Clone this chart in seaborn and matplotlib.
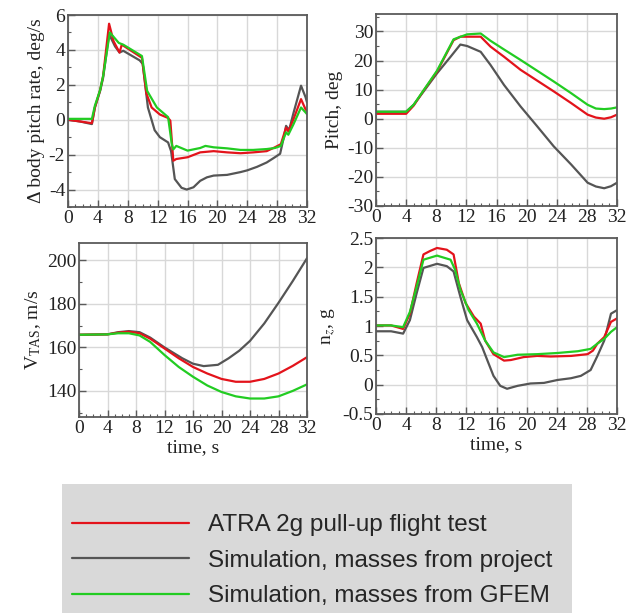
import numpy as np
import pandas as pd
import matplotlib
matplotlib.use('Agg')
import matplotlib.pyplot as plt
import seaborn as sns
from matplotlib.lines import Line2D
from matplotlib.ticker import MultipleLocator, FuncFormatter

# series labels and colours
series_names = ['ATRA 2g pull-up flight test',
                'Simulation, masses from project',
                'Simulation, masses from GFEM']
series_colors = ['#e3131b', '#555555', '#22cc22']

# pitch rate, deg/s
rate_t_red = [0, 1.6, 3.2, 3.6, 4.3, 4.7, 5.5, 6.1, 6.9, 7.2, 9.9, 10.5, 11.2, 12.3, 13.4, 13.7, 14.1,
              14.5, 16.0, 17.7, 19.5, 21.3, 23.1, 24.8, 26.6, 27.7, 28.5, 29.2, 29.5, 30.2, 31.2, 31.8, 32]
rate_red = [0, -0.1, -0.2, 0.7, 1.7, 2.5, 5.5, 4.5, 3.85, 4.3, 3.55, 1.5, 0.7, 0.3, 0.1, -0.05, -2.35,
            -2.25, -2.15, -1.87, -1.8, -1.87, -1.92, -1.87, -1.8, -1.58, -1.4, -0.45, -0.67, 0.04, 1.18, 0.6, 0.5]
rate_t_gray = [0, 1.6, 3.2, 3.6, 4.3, 4.7, 5.5, 6.3, 6.9, 7.4, 9.6, 10.0, 10.7, 11.6, 12.3, 13.4, 13.8, 14.3,
               15.2, 15.9, 16.8, 17.7, 18.6, 19.5, 21.3, 23.1, 24.0, 25.3, 26.6, 27.7, 28.4, 28.9, 29.2,
               29.6, 30.2, 31.2, 31.8, 32]
rate_gray = [0, -0.1, -0.25, 0.7, 1.65, 2.4, 4.9, 4.2, 3.85, 3.95, 3.4, 3.2, 0.7, -0.6, -1.0, -1.3, -1.8, -3.4,
             -3.9, -4.0, -3.87, -3.5, -3.3, -3.2, -3.16, -3.0, -2.9, -2.7, -2.45, -2.15, -1.95, -1.0, -0.35,
             -0.6, 0.4, 1.95, 1.3, 1.0]
rate_t_green = [0, 1.6, 3.2, 3.6, 4.3, 4.7, 5.6, 6.8, 7.4, 9.9, 10.6, 11.9, 13.4, 13.9, 14.1, 14.5, 16.0,
                17.7, 18.4, 19.5, 21.3, 23.1, 24.8, 26.6, 27.7, 28.5, 29.2, 29.5, 30.2, 31.2, 31.8, 32]
rate_green = [0.05, 0.05, 0.05, 0.8, 1.7, 2.5, 5.0, 4.4, 4.3, 3.65, 1.65, 0.7, 0.15, -1.4, -1.7, -1.5, -1.77,
              -1.62, -1.5, -1.58, -1.64, -1.73, -1.73, -1.68, -1.62, -1.5, -0.72, -0.86, -0.25, 0.7, 0.42, 0.32]

# pitch, deg
pitch_t_red = [0, 4, 5, 6.3, 8.1, 10.3, 11.2, 13.9, 15.2, 17, 19.2, 21.4, 23.6, 25.9, 28.1, 29.2, 30.3, 31.2, 32]
pitch_red = [1.7, 1.7, 4.5, 9.6, 16.2, 27, 28.2, 28.2, 24.8, 21.3, 16.8, 13.1, 9.4, 5.4, 1.4, 0.4, 0, 0.5, 1.4]
pitch_t_gray = [0, 4, 5, 6.3, 8.1, 9.9, 11.2, 12.1, 13.9, 15.2, 17, 19.2, 21.4, 23.6, 25.9, 28.1, 29.2,
                30.3, 31.2, 32]
pitch_gray = [2.4, 2.4, 4.8, 9.3, 15.6, 21.3, 25.5, 25, 23, 18.5, 11.6, 4.2, -2.6, -9.5, -15.7, -22, -23.3,
              -23.9, -23.2, -22]
pitch_t_green = [0, 4, 5, 6.3, 8.1, 10.3, 12.1, 13.9, 15.2, 17, 19.2, 21.4, 23.6, 25.9, 28.1, 29.2, 30.3,
                 31.2, 32]
pitch_green = [2.4, 2.4, 4.8, 9.7, 16.5, 27.3, 29, 29.3, 26.8, 23.8, 20.2, 16.5, 12.8, 8.8, 4.8, 3.5, 3.3,
               3.5, 3.9]

# true airspeed, m/s
vtas_t_red = [0, 4, 5.5, 7, 8.5, 10, 12, 14, 16, 18, 20, 22, 24, 26, 28, 30, 32]
vtas_red = [165.8, 166, 166.8, 167.2, 166.5, 164, 159.5, 155, 151, 148, 145.5, 144.2, 144.2, 145.5, 148,
            151.5, 155.5]
vtas_t_gray = [0, 4, 5.5, 7, 8.5, 10, 12, 14.5, 16, 17.5, 19.5, 21, 22.5, 24, 26, 28, 30, 32]
vtas_gray = [165.8, 166, 167, 167.5, 167, 164.5, 160, 155, 152.5, 151.4, 152, 155, 158.5, 163, 171, 180.5,
             190.5, 201]
vtas_t_green = [0, 4, 5.5, 7, 8.5, 10, 12, 14, 16, 18, 20, 22, 24, 26, 28, 30, 32]
vtas_green = [165.8, 166, 166.5, 166.5, 165.5, 162.5, 156.5, 151, 146.5, 142.5, 139.5, 137.5, 136.5, 136.5,
              137.5, 140, 143]

# normal load factor, g
nz_t_red = [0, 2, 3.6, 4.5, 5.4, 6.3, 7.2, 8.1, 9.4, 10.3, 11, 11.9, 13, 13.9, 14.5, 15.6, 17, 17.9, 19.6,
            21.4, 23.2, 25.9, 28.1, 28.8, 29.4, 30.3, 31.2, 32]
nz_red = [1.01, 1.01, 0.95, 1.21, 1.73, 2.22, 2.28, 2.33, 2.3, 2.22, 1.73, 1.39, 1.16, 1.04, 0.75, 0.52, 0.41,
          0.42, 0.47, 0.49, 0.48, 0.49, 0.52, 0.58, 0.7, 0.81, 1.07, 1.13]
nz_t_gray = [0, 2, 3.6, 4.5, 5.4, 6.3, 8.1, 9.4, 10.3, 11.2, 12.1, 13.4, 14.1, 14.8, 15.6, 16.5, 17.4, 18.8,
             20.5, 22.3, 24.1, 25.9, 27.2, 28.5, 29.4, 30.3, 31.2, 32]
nz_gray = [0.91, 0.91, 0.87, 1.1, 1.56, 1.99, 2.06, 2.02, 1.93, 1.5, 1.1, 0.81, 0.64, 0.41, 0.15, -0.02, -0.07,
           -0.02, 0.02, 0.03, 0.08, 0.11, 0.15, 0.25, 0.49, 0.75, 1.21, 1.27]
nz_t_green = [0, 2, 3.6, 4.5, 5.4, 6.3, 8.1, 9.9, 10.5, 11.2, 12.3, 13.4, 14.5, 15.6, 17, 18.8, 21.4, 24.1,
              26.8, 28.5, 29.4, 30.3, 31.2, 32]
nz_green = [1.01, 1.01, 0.98, 1.24, 1.67, 2.13, 2.2, 2.13, 1.96, 1.62, 1.27, 1.04, 0.75, 0.55, 0.47, 0.51,
            0.52, 0.54, 0.57, 0.61, 0.7, 0.78, 0.9, 0.98]

time_ticks = [0, 4, 8, 12, 16, 20, 24, 28, 32]


def make_frame(red, gray, green):
    """Long-form table for one panel"""
    parts = []
    for name, (t, v) in zip(series_names, [red, gray, green]):
        parts.append(pd.DataFrame({'time': t, 'value': v, 'series': name}))
    return pd.concat(parts, ignore_index=True)


sns.set_theme(style='whitegrid')
plt.rcParams['font.family'] = ['Liberation Serif', 'DejaVu Serif']
plt.rcParams['mathtext.fontset'] = 'stix'

fig = plt.figure(figsize=(6.35, 6.13), dpi=100)
W, H = 635, 613


def px_axes(left, top, right, bottom):
    return fig.add_axes([left / W, 1 - bottom / H, (right - left) / W, (bottom - top) / H])


panels = [
    (px_axes(68, 15, 307, 207), make_frame((rate_t_red, rate_red), (rate_t_gray, rate_gray),
                                           (rate_t_green, rate_green)),
     '\u0394 body pitch rate, deg/s', (-5, 6), [-4, -2, 0, 2, 4, 6], 1, False),
    (px_axes(376, 14, 617, 206), make_frame((pitch_t_red, pitch_red), (pitch_t_gray, pitch_gray),
                                            (pitch_t_green, pitch_green)),
     'Pitch, deg', (-30, 36), [-30, -20, -10, 0, 10, 20, 30], 5, False),
    (px_axes(79, 243, 307, 417), make_frame((vtas_t_red, vtas_red), (vtas_t_gray, vtas_gray),
                                            (vtas_t_green, vtas_green)),
     r'V$_\mathregular{TAS}$, m/s', (128, 208), [140, 160, 180, 200], 10, True),
    (px_axes(376, 238, 617, 414), make_frame((nz_t_red, nz_red), (nz_t_gray, nz_gray),
                                             (nz_t_green, nz_green)),
     r'n$_z$, g', (-0.5, 2.5), [-0.5, 0, 0.5, 1, 1.5, 2, 2.5], 0.25, True),
]

palette = dict(zip(series_names, series_colors))
draw_order = [series_names[1], series_names[0], series_names[2]]

for ax, df, ylabel, ylim, yticks, yminor, show_x in panels:
    sns.lineplot(data=df, x='time', y='value', hue='series', hue_order=draw_order,
                 palette=palette, estimator=None, sort=False, linewidth=1.6,
                 legend=False, ax=ax)
    ax.set_xlim(0, 32)
    ax.set_ylim(*ylim)
    ax.set_xticks(time_ticks)
    ax.set_yticks(yticks)
    ax.xaxis.set_minor_locator(MultipleLocator(1))
    ax.yaxis.set_minor_locator(MultipleLocator(yminor))
    ax.yaxis.set_major_formatter(FuncFormatter(lambda v, p: '%g' % v))
    ax.set_facecolor('white')
    ax.grid(True, which='major', color='#d8d8d8', linewidth=1)
    ax.grid(False, which='minor')
    for s in ax.spines.values():
        s.set_color('#5a5a5a')
        s.set_linewidth(1.3)
    ax.tick_params(which='both', direction='in', colors='#5a5a5a', labelcolor='#222222',
                   labelsize=14, pad=2)
    ax.tick_params(which='major', length=5, width=1)
    ax.tick_params(which='minor', length=2.5, width=0.8)
    ax.tick_params(axis='both', which='both', bottom=True, left=True)
    ax.set_ylabel(ylabel, fontsize=14, color='#222222', labelpad=3)
    ax.set_xlabel('time, s' if show_x else '', fontsize=14, color='#222222', labelpad=2)

# legend panel
lax = px_axes(62, 484, 572, 613)
lax.set_facecolor('#d9d9d9')
lax.set_xticks([])
lax.set_yticks([])
lax.grid(False)
for s in lax.spines.values():
    s.set_visible(False)

handles = [Line2D([], [], color=c, linewidth=1.6) for c in series_colors]
lax.legend(handles, series_names, loc='center left', bbox_to_anchor=(0.0196, 0.405),
           frameon=False, borderpad=0, borderaxespad=0, handlelength=4.8, handletextpad=0.8,
           labelspacing=0.55, prop={'family': 'Liberation Sans', 'size': 17.5})

fig.savefig('out.png', dpi=100)
